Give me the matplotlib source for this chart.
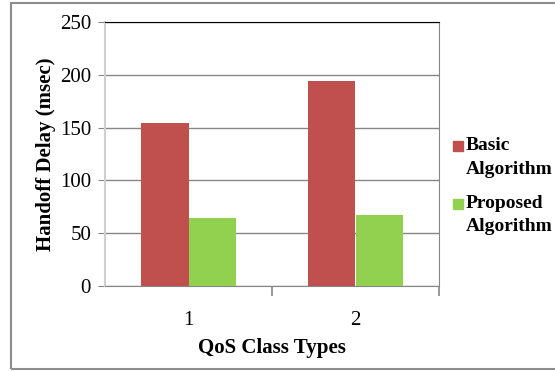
import matplotlib.pyplot as plt
from matplotlib.patches import Rectangle

# handoff delay per QoS class
classes = ["1", "2"]
basic = [154, 194]
proposed = [64, 67]
yticks = [0, 50, 100, 150, 200, 250]
series_names = ["Basic\nAlgorithm", "Proposed\nAlgorithm"]

plt.rcParams['font.family'] = ['Liberation Serif', 'DejaVu Serif']

W, H = 555, 371
fig = plt.figure(figsize=(W/100, H/100), dpi=100)
ax = fig.add_axes([105/W, 1 - 286/H, 334/W, 264/H])

x = list(range(len(classes)))
w = 0.283
red = '#C0504D'
green = '#92D050'
ax.bar([i - w/2 for i in x], basic, w, color=red, zorder=3)
ax.bar([i + w/2 for i in x], proposed, w, color=green, zorder=3)

ax.set_xlim(-0.5, len(classes) - 0.5)
ax.set_ylim(0, 250)
ax.set_yticks(yticks)
ax.yaxis.grid(True, color='#868686', linewidth=1, zorder=0)

ax.set_xticks(x)
ax.set_xticklabels(classes, fontsize=15)
ax.set_xticks([0.5, 1.5], minor=True)
ax.tick_params(axis='x', which='major', length=0, pad=18)
ax.tick_params(axis='x', which='minor', length=7, color='#868686', width=1.2)
ax.tick_params(axis='y', length=5, color='#868686', labelsize=15, pad=5)

ax.spines['top'].set_color('black')
ax.spines['right'].set_color('#868686')
ax.spines['left'].set_color('#d0d0d0')
ax.spines['bottom'].set_color('#868686')
ax.spines['left'].set_linewidth(1.5)

ax.set_ylabel('Handoff Delay (msec)', fontsize=15, fontweight='bold', labelpad=3)
ax.set_xlabel('QoS Class Types', fontsize=15, fontweight='bold', labelpad=6)

# legend: square swatch beside the first line of each two-line name
for name, col, top in zip(series_names, [red, green], [137, 195]):
    fig.add_artist(Rectangle((453/W, 1 - (top + 14)/H), 10/W, 10/H,
                             transform=fig.transFigure, color=col))
    fig.text(466/W, 1 - top/H, name, fontsize=14, fontweight='bold',
             va='top', ha='left', linespacing=1.5)

# grey frame around the chart
fig.add_artist(Rectangle((11/W, 2/H), 560/W, 366/H,
                         transform=fig.transFigure, fill=False,
                         edgecolor='#8c8c8c', linewidth=1.5))

fig.savefig('out.png', dpi=100)
